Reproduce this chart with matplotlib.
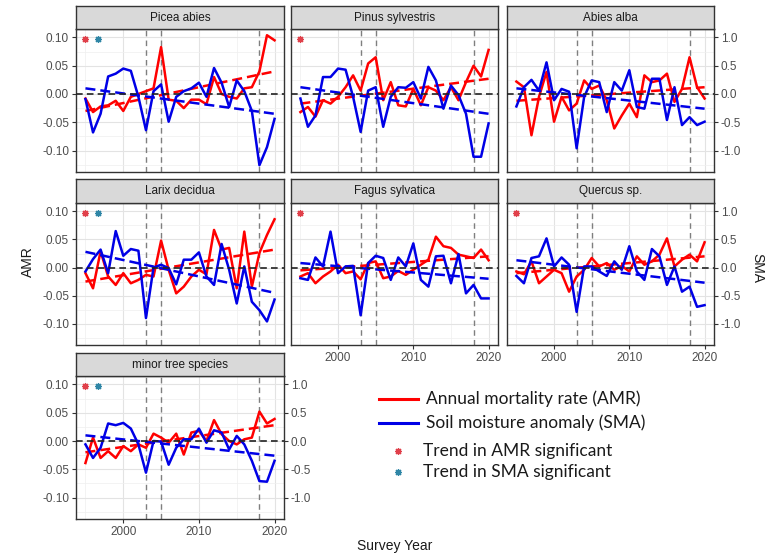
import matplotlib
matplotlib.use("Agg")
import matplotlib.pyplot as plt
import numpy as np

# survey years
years = np.arange(1995, 2021)

species = ["Picea abies", "Pinus sylvestris", "Abies alba",
           "Larix decidua", "Fagus sylvatica", "Quercus sp.",
           "minor tree species"]

# annual mortality rate (AMR)
amr_picea = [-0.008, -0.032, -0.022, -0.02, -0.012, -0.03, -0.005, 0.0, 0.005, 0.01, 0.083, -0.01, -0.012,
             -0.025, -0.01, -0.01, -0.018, 0.03, 0.0, -0.005, -0.008, 0.01, 0.012, 0.04, 0.104, 0.095]
amr_pinus = [-0.032, -0.023, -0.04, -0.011, -0.017, -0.005, 0.012, 0.033, 0.006, 0.054, 0.065, -0.011, 0.021,
             -0.02, -0.022, 0.009, -0.02, 0.012, 0.006, -0.011, 0.012, -0.011, 0.021, 0.05, 0.031, 0.078]
amr_abies = [0.022, 0.012, -0.073, -0.005, 0.039, -0.049, -0.005, -0.029, -0.017, 0.024, 0.009, 0.015, -0.011,
             -0.061, -0.038, -0.017, -0.041, 0.033, 0.021, 0.024, 0.036, -0.014, 0.009, 0.065, 0.012, -0.008]
amr_larix = [-0.01, -0.037, 0.029, -0.016, -0.031, -0.01, -0.028, -0.022, -0.013, -0.016, 0.048, -0.004, -0.046,
             -0.034, -0.016, -0.004, -0.012, 0.067, 0.032, 0.035, -0.037, 0.064, -0.034, 0.026, 0.058, 0.086]
amr_fagus = [-0.016, -0.01, -0.028, -0.016, -0.007, 0.005, -0.01, -0.007, -0.021, 0.008, 0.011, -0.019, -0.016,
             -0.006, -0.013, -0.004, 0.005, 0.014, 0.055, 0.038, 0.035, 0.023, 0.02, 0.017, 0.032, 0.013]
amr_quercus = [-0.007, -0.012, 0.011, -0.028, -0.016, -0.004, -0.01, -0.043, -0.016, -0.004, 0.017, 0.002, 0.008,
               -0.004, 0.003, -0.007, 0.02, 0.005, 0.011, 0.023, 0.052, 0.002, 0.014, 0.023, 0.011, 0.045]
amr_minor = [-0.039, 0.006, -0.03, -0.018, -0.03, -0.009, -0.018, -0.006, -0.012, 0.013, 0.006, -0.003, 0.013,
             -0.024, 0.015, 0.018, 0.0, 0.037, 0.012, 0.0, -0.006, 0.003, 0.006, 0.052, 0.031, 0.039]

# soil moisture anomaly (SMA)
sma_picea = [-0.09, -0.68, -0.35, 0.31, 0.36, 0.45, 0.41, -0.05, -0.64, 0.05, 0.17, -0.49, -0.05,
             0.05, 0.1, 0.2, -0.05, 0.46, 0.2, -0.23, 0.24, 0.05, -0.3, -1.26, -0.94, -0.44]
sma_pinus = [-0.08, -0.58, -0.38, 0.3, 0.3, 0.45, 0.43, -0.05, -0.67, 0.06, 0.12, -0.58, -0.05,
             0.12, 0.11, 0.21, -0.08, 0.48, 0.24, -0.26, 0.15, -0.02, -0.35, -1.11, -1.11, -0.52]
sma_abies = [-0.22, 0.12, 0.25, 0.06, 0.56, -0.11, 0.09, 0.04, -0.96, -0.05, 0.24, 0.21, -0.32,
             0.21, 0.06, 0.42, -0.23, -0.26, 0.27, 0.27, -0.46, 0.12, -0.55, -0.41, -0.55, -0.49]
sma_larix = [-0.07, 0.15, 0.32, -0.1, 0.65, 0.21, 0.33, 0.3, -0.9, 0.0, 0.05, -0.01, -0.3,
             0.14, 0.14, 0.27, -0.16, -0.31, 0.42, -0.04, -0.64, 0.02, -0.61, -0.76, -0.96, -0.57]
sma_fagus = [-0.19, -0.22, 0.18, 0.02, 0.64, -0.1, 0.02, 0.03, -0.85, 0.08, 0.21, 0.17, -0.22,
             0.18, 0.02, 0.43, -0.22, -0.34, 0.2, 0.21, -0.28, 0.24, -0.46, -0.31, -0.55, -0.55]
sma_quercus = [-0.15, -0.28, 0.17, 0.2, 0.52, 0.02, 0.18, 0.05, -0.79, 0.02, 0.02, -0.07, -0.15,
               0.11, -0.04, 0.38, -0.07, -0.22, 0.33, 0.2, -0.31, 0.02, -0.43, -0.34, -0.7, -0.67]
sma_minor = [-0.06, -0.3, -0.12, 0.31, 0.28, 0.32, 0.22, -0.06, -0.56, 0.0, -0.01, -0.42, -0.12,
             0.03, 0.03, 0.22, -0.03, 0.19, 0.15, -0.15, 0.09, -0.06, -0.35, -0.71, -0.72, -0.35]

amr_all = [amr_picea, amr_pinus, amr_abies, amr_larix, amr_fagus, amr_quercus, amr_minor]
sma_all = [sma_picea, sma_pinus, sma_abies, sma_larix, sma_fagus, sma_quercus, sma_minor]

# linear trend lines: values at first and last survey year
trend_years = [1995, 2020]
amr_trend = [(-0.03, 0.04), (-0.017, 0.027), (-0.012, 0.012), (-0.025, 0.032),
             (-0.005, 0.02), (-0.01, 0.02), (-0.02, 0.028)]
sma_trend = [(0.1, -0.35), (0.12, -0.35), (0.1, -0.26), (0.28, -0.45),
             (0.08, -0.2), (0.13, -0.27), (0.1, -0.26)]

# significance of trends (AMR, SMA)
sig_amr = [True, True, False, True, True, True, True]
sig_sma = [True, False, False, True, False, False, True]

drought_years = [2003, 2005, 2018]

W, H = 769, 558
RED = "#ff0000"
BLUE = "#0000e6"
STAR_RED = "#e0404a"
STAR_BLUE = "#2f86a6"
TXT = "#4d4d4d"
plt.rcParams["font.family"] = ["Liberation Sans", "DejaVu Sans"]

fig = plt.figure(figsize=(W / 100, H / 100), dpi=100)


def box(x0, x1, y0, y1):
    return [x0 / W, 1 - y1 / H, (x1 - x0) / W, (y1 - y0) / H]


cols = [(76, 284), (291, 498), (507, 714)]
rows = [(6, 29, 172), (179, 203, 345), (353, 376, 519)]
ylim = (-0.138, 0.115)

for i, name in enumerate(species):
    r, c = divmod(i, 3)
    x0, x1 = cols[c]
    s0, p0, p1 = rows[r]
    ax = fig.add_axes(box(x0, x1, p0, p1))
    ax2 = ax.twinx()

    ax.set_xlim(1993.75, 2021.25)
    ax.set_ylim(*ylim)
    ax2.set_ylim(ylim[0] * 10, ylim[1] * 10)
    ax.set_xticks([2000, 2010, 2020])
    ax.set_xticks([1995, 2005, 2015], minor=True)
    ax.set_yticks([-0.1, -0.05, 0, 0.05, 0.1])
    ax.set_yticklabels(["-0.10", "-0.05", "0.00", "0.05", "0.10"])
    ax.set_yticks([-0.125, -0.075, -0.025, 0.025, 0.075], minor=True)
    ax2.set_yticks([-1, -0.5, 0, 0.5, 1])
    ax2.set_yticklabels(["-1.0", "-0.5", "0.0", "0.5", "1.0"])
    ax.grid(which="major", color="#e3e3e3", lw=0.8)
    ax.grid(which="minor", color="#efefef", lw=0.5)
    ax.set_axisbelow(True)
    for sp in ax.spines.values():
        sp.set_color("#333333")
        sp.set_linewidth(1.0)
    for sp in ax2.spines.values():
        sp.set_visible(False)

    show_left = c == 0
    show_right = c == 2 or i == 6
    show_bottom = i in (4, 5, 6)
    ax.tick_params(which="minor", length=0)
    ax.tick_params(axis="y", left=show_left, labelleft=show_left, length=3,
                   color="#333333", labelcolor=TXT, labelsize=8.5, pad=2)
    ax.tick_params(axis="x", bottom=show_bottom, labelbottom=show_bottom, length=3,
                   color="#333333", labelcolor=TXT, labelsize=8.5, pad=2)
    ax2.tick_params(axis="y", right=show_right, labelright=show_right, length=3,
                    color="#333333", labelcolor=TXT, labelsize=8.5, pad=2)

    for yr in drought_years:
        ax.axvline(yr, color="#7f7f7f", lw=1.0, ls=(0, (4, 3)), zorder=1)

    ax.plot(trend_years, amr_trend[i], color=RED, lw=1.8, dashes=(4, 2), zorder=2)
    ax.plot(years, amr_all[i], color=RED, lw=1.8, zorder=3)
    ax2.plot(trend_years, sma_trend[i], color=BLUE, lw=1.8, dashes=(4, 2), zorder=2)
    ax2.plot(years, sma_all[i], color=BLUE, lw=1.8, zorder=3)
    ax2.axhline(0, color="#222222", lw=1.2, ls=(0, (4, 2.5)), zorder=4)

    if sig_amr[i]:
        ax.plot([1995], [0.097], marker=(8, 2, 0), color=STAR_RED, ms=5, mew=0.9)
    if sig_sma[i]:
        ax.plot([1996.7], [0.097], marker=(8, 2, 0), color=STAR_BLUE, ms=5, mew=0.9)

    sax = fig.add_axes(box(x0, x1, s0, p0))
    sax.set_facecolor("#d9d9d9")
    sax.set_xticks([])
    sax.set_yticks([])
    for sp in sax.spines.values():
        sp.set_color("#333333")
        sp.set_linewidth(1.0)
    sax.text(0.5, 0.48, name, ha="center", va="center", fontsize=8.5, color="#1a1a1a",
             transform=sax.transAxes)

# overlay in pixel coordinates for labels and legend
lax = fig.add_axes([0, 0, 1, 1])
lax.set_xlim(0, W)
lax.set_ylim(H, 0)
lax.axis("off")

lax.text(28, 262, "AMR", rotation=90, ha="center", va="center", fontsize=10, color="#1a1a1a")
lax.text(757, 268, "SMA", rotation=-90, ha="center", va="center", fontsize=10, color="#1a1a1a")
lax.text(395, 546, "Survey Year", ha="center", va="center", fontsize=10, color="#1a1a1a")

leg_font = ["Lato", "DejaVu Sans"]
lax.plot([379, 418], [399, 399], color=RED, lw=2.2)
lax.plot([379, 418], [423, 423], color=BLUE, lw=2.2)
lax.text(426, 399, "Annual mortality rate (AMR)", va="center", fontsize=12.5,
         family=leg_font, color="#1a1a1a")
lax.text(426, 423, "Soil moisture anomaly (SMA)", va="center", fontsize=12.5,
         family=leg_font, color="#1a1a1a")
lax.plot([398], [451], marker=(8, 2, 0), color=STAR_RED, ms=5, mew=0.9)
lax.plot([398], [472], marker=(8, 2, 0), color=STAR_BLUE, ms=5, mew=0.9)
lax.text(423, 451, "Trend in AMR significant", va="center", fontsize=12.5,
         family=leg_font, color="#1a1a1a")
lax.text(423, 472, "Trend in SMA significant", va="center", fontsize=12.5,
         family=leg_font, color="#1a1a1a")

fig.savefig("out.png", dpi=100)
